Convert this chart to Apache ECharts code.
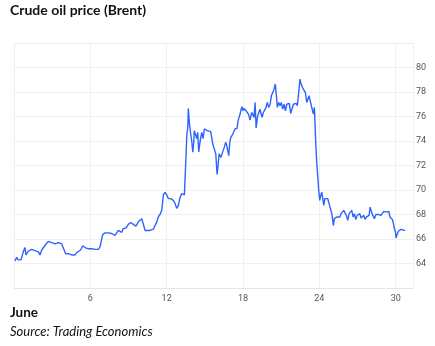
<!DOCTYPE html>
<html>
<head>
<meta charset="utf-8">
<script src="https://cdn.jsdelivr.net/npm/echarts@6/dist/echarts.min.js"></script>
<style>
html,body{margin:0;padding:0;background:#fff;}
#chart{width:435px;height:346px;}
</style>
</head>
<body>
<div id="chart"></div>
<script>
// Day of June (fractional) and Brent price
const days = [
0.08,0.21,0.34,0.55,0.73,0.86,0.94,1.12,1.39,1.65,1.91,2.04,2.18,2.30,2.52,2.70,2.96,3.22,3.48,3.62,3.75,3.88,
4.06,4.27,4.54,4.80,4.93,5.06,5.24,5.40,5.58,5.84,6.11,6.37,6.63,6.76,
6.97,7.15,7.41,7.68,7.94,8.07,8.20,8.33,8.47,8.59,8.81,8.99,9.17,9.38,9.59,9.77,9.91,10.04,10.17,10.30,10.43,
10.69,10.95,11.08,11.22,11.34,11.48,11.61,11.74,11.87,12.00,12.13,12.32,12.52,12.66,12.79,12.92,
13.05,13.18,13.31,13.39,13.50,13.58,13.66,13.70,13.78,13.89,13.97,14.05,14.13,14.17,14.28,14.36,14.44,14.52,
14.60,14.68,14.76,14.86,14.96,15.09,15.20,15.33,15.46,15.54,15.62,15.70,15.78,15.86,15.90,15.96,16.04,16.12,
16.19,16.27,16.35,16.43,16.53,16.64,16.72,16.80,16.88,16.96,17.04,17.11,17.19,17.30,17.37,17.45,17.53,17.61,
17.69,17.77,17.85,17.92,18.00,18.08,18.16,18.24,18.34,18.42,18.50,
18.55,18.69,18.77,18.87,18.95,19.03,19.13,19.24,19.34,19.42,19.50,19.60,19.71,19.81,19.91,20.02,20.13,20.23,
20.34,20.44,20.54,20.62,20.70,20.81,20.91,21.01,21.12,21.23,21.33,21.44,21.54,21.64,21.75,21.86,21.96,22.07,
22.17,22.27,22.38,22.48,22.56,22.64,22.74,22.82,22.90,23.01,23.11,23.19,23.27,23.37,23.45,23.53,23.61,23.72,
23.80,23.88,23.95,24.03,24.11,24.19,24.27,24.35,24.43,24.50,24.58,24.66,24.71,24.84,24.98,25.10,25.18,25.29,
25.39,25.50,25.61,25.71,25.81,25.92,26.02,26.12,26.23,26.34,26.44,26.55,26.65,26.75,26.86,26.97,27.07,27.18,
27.28,27.38,27.49,27.59,27.70,27.81,27.91,27.99,28.07,28.14,28.22,28.33,28.44,28.54,28.64,28.75,28.85,28.95,
29.06,29.17,29.27,29.38,29.46,29.54,29.64,29.74,29.82,29.90,29.98,30.03,30.11,30.21,30.32,30.42,30.53,30.64,30.74
];
const prices = [
64.2,64.5,64.3,64.3,64.95,65.3,64.7,65.0,65.15,65.05,64.95,64.7,65.1,65.15,65.6,65.8,65.7,65.6,65.7,65.85,65.6,65.75,
64.8,64.8,64.7,64.7,64.9,65.05,65.1,65.45,65.3,65.2,65.2,65.15,65.15,65.35,
66.36,66.5,66.5,66.45,66.3,66.5,66.7,66.8,66.55,66.85,66.9,67.2,67.35,67.2,67.05,67.4,67.45,67.65,67.2,66.7,66.55,
66.7,66.8,66.85,67.4,67.8,68.0,68.35,69.6,69.8,69.6,69.3,69.3,69.15,68.9,68.5,68.75,
69.4,69.7,69.55,69.6,72.27,74.45,75.1,76.66,75.5,74.55,74.0,73.08,73.9,74.85,74.93,74.2,74.7,73.1,
73.77,74.3,74.7,74.2,74.98,75.03,74.85,74.9,74.76,74.3,73.77,73.63,73.22,72.95,72.27,71.27,72.0,72.95,
73.08,72.67,72.95,72.8,73.5,73.9,73.63,73.68,72.8,73.9,74.3,74.2,74.55,74.7,74.98,75.1,75.03,75.66,
75.93,76.2,76.6,76.8,76.47,76.66,76.55,76.47,76.47,76.2,75.93,
75.7,76.33,76.47,75.93,77.15,75.06,75.93,76.33,76.6,76.2,75.93,76.33,76.47,76.74,77.15,76.74,77.0,77.7,
77.55,78.23,78.65,78.6,76.74,77.15,76.88,77.15,76.6,77.0,76.47,77.0,76.88,77.07,76.26,76.2,77.0,76.96,
77.07,76.88,77.0,79.05,78.65,78.5,78.23,78.37,77.96,77.15,77.42,77.7,77.55,76.88,77.0,76.2,76.74,73.77,
72.14,71.05,69.96,69.15,69.56,69.83,69.7,68.74,69.3,69.2,69.42,69.3,69.15,68.6,68.07,67.1,67.66,67.6,
67.8,67.87,67.8,68.07,68.0,68.34,68.2,67.93,67.52,68.07,68.2,68.34,67.8,68.07,67.6,67.93,67.8,68.07,
67.71,67.87,67.93,67.6,67.8,67.71,67.93,68.6,68.47,68.07,67.93,67.66,68.0,67.93,68.0,68.07,67.93,68.07,
68.26,68.15,68.2,68.07,68.26,67.8,67.71,67.6,67.25,66.85,66.57,66.08,66.36,66.63,66.52,66.79,66.63,66.73,66.68
];
const xTickLabels = [6, 12, 18, 24, 30];
const yTickLabels = [64, 66, 68, 70, 72, 74, 76, 78, 80];

const chart = echarts.init(document.getElementById('chart'), null, {renderer: 'canvas'});
const labelFont = 'Roboto, "Liberation Sans", sans-serif';
chart.setOption({
  animation: false,
  backgroundColor: '#fff',
  grid: {left: 14, right: 22, top: 43, bottom: 58, containLabel: false},
  xAxis: {
    type: 'value', min: 0, max: 31.36, interval: 6,
    axisLine: {show: true, lineStyle: {color: '#e4e4e4', width: 1}},
    axisTick: {show: false},
    splitLine: {show: true, showMinLine: false, lineStyle: {color: '#f0f0f0', width: 1}},
    axisLabel: {
      color: '#555', fontSize: 9, fontFamily: labelFont, margin: 6,
      showMinLabel: false, showMaxLabel: false,
      formatter: v => xTickLabels.indexOf(Math.round(v)) >= 0 && Math.abs(v - Math.round(v)) < 1e-6 ? String(Math.round(v)) : ''
    }
  },
  yAxis: {
    type: 'value', position: 'right', min: 62, max: 82, interval: 2,
    axisLine: {show: true, lineStyle: {color: '#eeeeee', width: 1}},
    axisTick: {show: false},
    splitLine: {show: true, lineStyle: {color: '#f0f0f0', width: 1}},
    axisLabel: {
      color: '#555', fontSize: 9, fontFamily: labelFont, margin: 3,
      formatter: v => yTickLabels.indexOf(v) >= 0 ? String(v) : ''
    }
  },
  series: [{
    type: 'line',
    data: days.map((d, i) => [d, prices[i]]),
    showSymbol: false,
    smooth: false,
    lineStyle: {color: '#2f63ff', width: 1.4},
    z: 3
  }],
  graphic: [
    {type: 'text', left: 10, top: 3, style: {text: 'Crude oil price (Brent)', font: 'bold 14px Lato, "Open Sans", sans-serif', fill: '#111'}},
    {type: 'text', left: 10, top: 306, style: {text: 'June', font: 'bold 13.5px Lato, "Open Sans", sans-serif', fill: '#111'}},
    {type: 'text', left: 10, top: 325, style: {text: 'Source: Trading Economics', font: 'italic 13px Lato, "Open Sans", sans-serif', fill: '#111'}}
  ]
});
</script>
</body>
</html>
